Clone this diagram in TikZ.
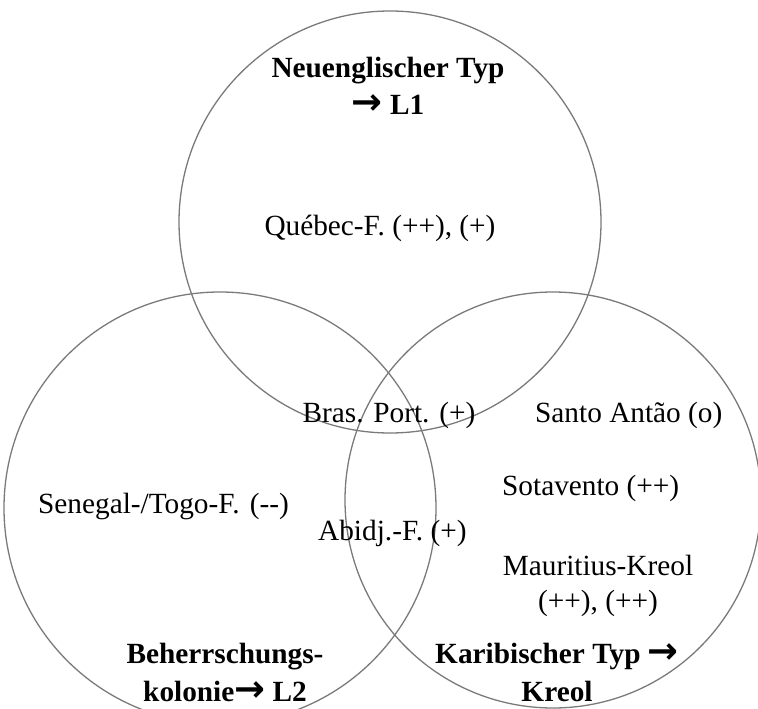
\documentclass[tikz,border=0pt]{standalone}
\usepackage{fontspec}
\setmainfont{Liberation Serif}
\newfontfamily\arrowfont{DejaVu Sans}
% heavy arrow used in the bold captions
\newcommand\heavyarrow{{\arrowfont\bfseries\fontsize{37}{38}\selectfont →}}
\begin{document}
\begin{tikzpicture}[x=1bp,y=-1bp,
  ring/.style={circle, draw=black!52, line width=1.3bp, inner sep=0pt, outer sep=0pt},
  lbl/.style={font=\fontsize{29.4}{35}\selectfont, inner sep=0pt, anchor=base},
  head/.style={font=\fontsize{29.4}{38}\selectfont\bfseries, inner sep=0pt, anchor=base, align=center}]
\useasboundingbox (0,0) rectangle (758,709);
\clip (0,0) rectangle (758,709);

% the three sets
\node[ring, minimum size=422bp] (setA) at (390,222) {};
\node[ring, minimum size=432bp] (setB) at (220,508) {};
\node[ring, minimum size=416bp] (setC) at (553,500) {};

% set captions (anchored on the baseline of the last line)
\node[head] (capA) at (388,115) {Neuenglischer Typ\\\heavyarrow\ L1};
\node[head] (capB) at (225,701) {Beherrschungs-\\kolonie\heavyarrow\ L2};
\node[head] (capC) at (557,701) {Karibischer Typ \heavyarrow\\Kreol};

% varieties
\node[lbl] (quebec) at (380,235) {Québec-F. (++), (+)};
\node[lbl] (bras) at (389,422) {Bras. Port. (+)};
\node[lbl, anchor=base west] (santo) at (535,422) {Santo Antão (o)};
\node[lbl, anchor=base west] (senegal) at (38,513) {Senegal-/Togo-F.\hspace{3bp} (-{}-)};
\node[lbl, anchor=base west] (sota) at (502,495) {Sotavento (++)};
\node[lbl, anchor=base west] (abidj) at (318,540) {Abidj.-F. (+)};
\node[lbl, align=center] (maur) at (598,610) {Mauritius-Kreol\\(++), (++)};
\end{tikzpicture}
\end{document}
